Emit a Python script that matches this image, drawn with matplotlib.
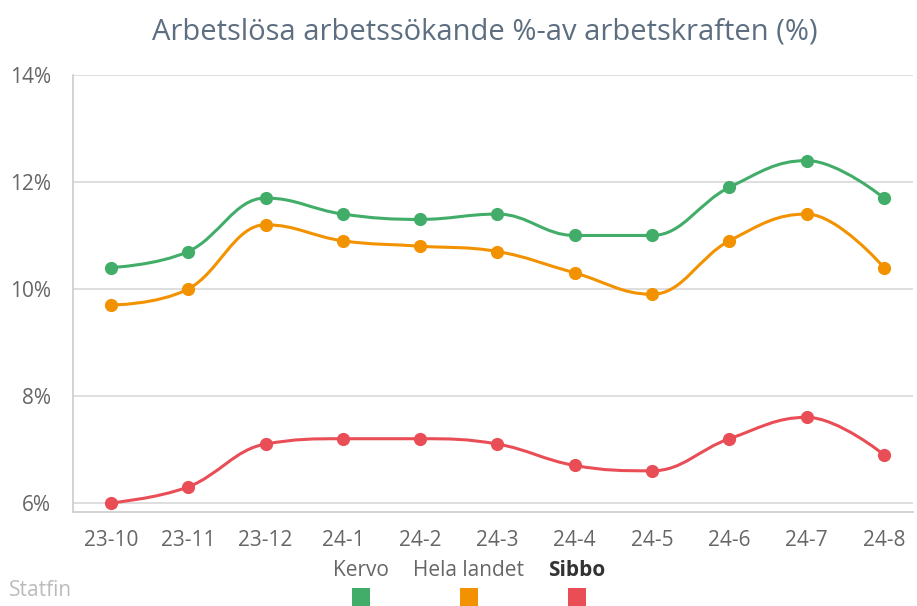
import matplotlib.pyplot as plt
from matplotlib.path import Path
from matplotlib.patches import PathPatch, Rectangle
from matplotlib.ticker import FuncFormatter

plt.rcParams.update({
    'font.family': ['Open Sans', 'DejaVu Sans'],
    'font.size': 15,
})

months = ['23-10', '23-11', '23-12', '24-1', '24-2', '24-3', '24-4', '24-5', '24-6', '24-7', '24-8']
kervo = [10.4, 10.7, 11.7, 11.4, 11.3, 11.4, 11.0, 11.0, 11.9, 12.4, 11.7]
hela_landet = [9.7, 10.0, 11.2, 10.9, 10.8, 10.7, 10.3, 9.9, 10.9, 11.4, 10.4]
sibbo = [6.0, 6.3, 7.1, 7.2, 7.2, 7.1, 6.7, 6.6, 7.2, 7.6, 6.9]

series = [
    ('Kervo', kervo, '#41ad69'),
    ('Hela landet', hela_landet, '#f39200'),
    ('Sibbo', sibbo, '#e94e57'),
]


def spline_path(xs, ys):
    # Highcharts-style spline: control points per point, smoothing 1.5
    n = len(xs)
    left = [(xs[i], ys[i]) for i in range(n)]
    right = [(xs[i], ys[i]) for i in range(n)]
    for i in range(1, n - 1):
        x, y = xs[i], ys[i]
        px, py = xs[i - 1], ys[i - 1]
        nx, ny = xs[i + 1], ys[i + 1]
        lx, ly = (1.5 * x + px) / 2.5, (1.5 * y + py) / 2.5
        rx, ry = (1.5 * x + nx) / 2.5, (1.5 * y + ny) / 2.5
        corr = (ry - ly) * (rx - x) / (rx - lx) + y - ry
        ly += corr
        ry += corr
        if ly > max(py, y):
            ly = max(py, y)
            ry = 2 * y - ly
        elif ly < min(py, y):
            ly = min(py, y)
            ry = 2 * y - ly
        if ry > max(ny, y):
            ry = max(ny, y)
            ly = 2 * y - ry
        elif ry < min(ny, y):
            ry = min(ny, y)
            ly = 2 * y - ry
        left[i] = (lx, ly)
        right[i] = (rx, ry)
    verts = [(xs[0], ys[0])]
    codes = [Path.MOVETO]
    for i in range(1, n):
        verts += [right[i - 1], left[i], (xs[i], ys[i])]
        codes += [Path.CURVE4] * 3
    return Path(verts, codes)


fig = plt.figure(figsize=(9.17, 6.06), dpi=100)
ax = fig.add_axes([73 / 917, 94 / 606, 840 / 917, 437 / 606])

x = list(range(len(months)))
for name, vals, color in series:
    ax.add_patch(PathPatch(spline_path(x, vals), facecolor='none', edgecolor=color,
                           lw=2.2, zorder=3, capstyle='round', joinstyle='round'))
    ax.plot(x, vals, 'o', color=color, ms=9.5, zorder=4, markeredgewidth=0)

ax.set_xlim(-0.49, 10.375)
ax.set_ylim(5.83, 14)
ax.set_yticks([6, 8, 10, 12, 14])
ax.yaxis.set_major_formatter(FuncFormatter(lambda v, p: f'{v:.0f}%'))
ax.set_xticks(x)
ax.set_xticklabels(months)
ax.grid(axis='y', color='#d8d8d8', lw=1.2)
ax.set_axisbelow(True)
for s in ['top', 'right']:
    ax.spines[s].set_visible(False)
for s in ['left', 'bottom']:
    ax.spines[s].set_color('#cccccc')
    ax.spines[s].set_linewidth(1.2)
ax.tick_params(axis='both', length=0, colors='#666666', labelsize=15)
ax.tick_params(axis='y', pad=16)
ax.tick_params(axis='x', pad=13)

fig.text(485 / 917, 1 - 32 / 606, 'Arbetslösa arbetssökande %-av arbetskraften (%)',
         ha='center', va='center', fontsize=21, color='#5c6e80')
fig.text(9 / 917, 1 - 591 / 606, 'Statfin', ha='left', va='center', fontsize=15, color='#bbbbbb')

legend_x = [361, 469, 577]
for (name, vals, color), lx in zip(series, legend_x):
    bold = name == 'Sibbo'
    fig.text(lx / 917, 1 - 570 / 606, name, ha='center', va='center', fontsize=15,
             color='#333333' if bold else '#666666', fontweight='bold' if bold else 'normal')
    fig.patches.append(Rectangle(((lx - 9) / 917, 1 - 606 / 606), 18 / 917, 18 / 606,
                                 transform=fig.transFigure, facecolor=color, edgecolor='none'))

fig.savefig('out.png', dpi=100, facecolor='white')
